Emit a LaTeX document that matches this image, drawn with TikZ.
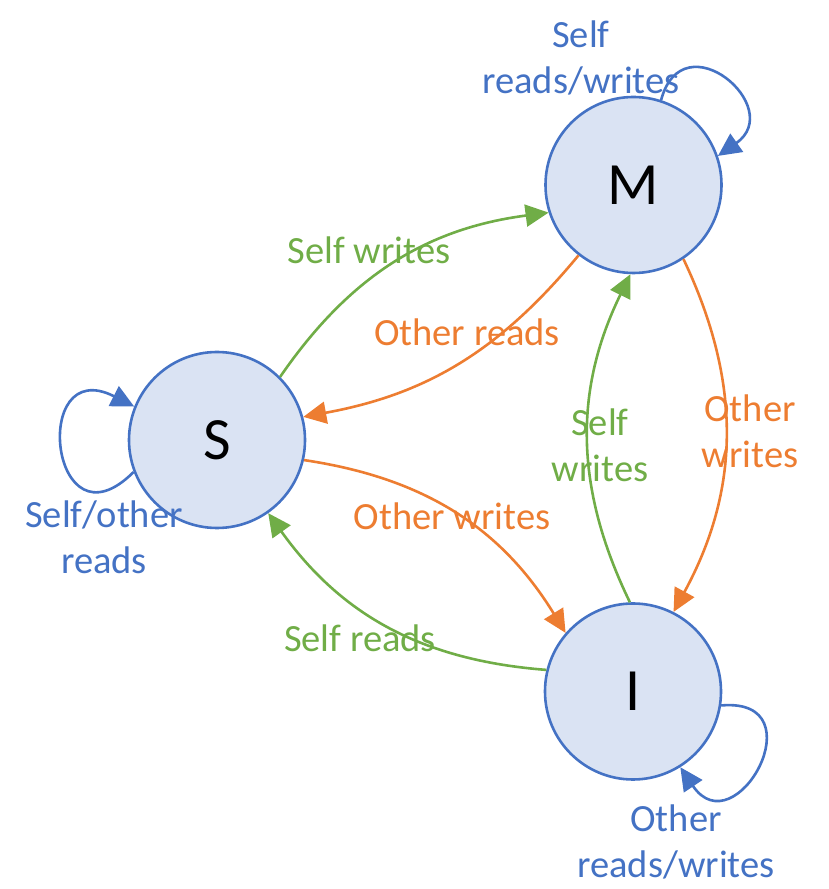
\documentclass[tikz,border=0pt]{standalone}
\usepackage{fontspec}
\setmainfont{Carlito}
\usetikzlibrary{arrows.meta}
\definecolor{stateblue}{HTML}{4472C4}
\definecolor{statefill}{HTML}{DAE3F3}
\definecolor{selfgreen}{HTML}{70AD47}
\definecolor{otherorange}{HTML}{ED7D31}

\begin{document}
\begin{tikzpicture}
  [
  x=1pt, y=1pt, line width=2.6pt, >={Triangle[length=23pt,width=22pt]},
  statenode/.style={circle, inner sep=0pt, minimum size=176pt, draw=stateblue, fill=statefill, font=\fontsize{60}{64}\selectfont},
  lbl/.style={anchor=base, align=center, font=\fontsize{38.5}{46.5}\selectfont},
  selfedge/.style={->, draw=selfgreen},
  otheredge/.style={->, draw=otherorange},
  loopedge/.style={->, draw=stateblue}
  ]
  \useasboundingbox (0,0) rectangle (829,889);

  \node[statenode] (m) at (633.5,704) {M};
  \node[statenode] (s) at (217,449) {S};
  \node[statenode] (i) at (633,197.5) {I};

  % self loops
  \draw[loopedge] (m.72) to[out=75, in=35, looseness=2.7] (m.19);
  \draw[loopedge] (s.201) to[out=225, in=153, looseness=4.6] (s.158);
  \draw[loopedge] (i.-9) to[out=5, in=-56, looseness=3.4] (i.-58);

  % transitions
  \draw[selfedge] (s.45) to[bend left=24] (m.198);
  \draw[otheredge] (m.232) to[bend left=20] (s.15);
  \draw[otheredge] (s.-13) to[bend left=25] (i.139);
  \draw[selfedge] (i.166) to[bend left=25] (s.-55);
  \draw[selfedge] (i.92) to[bend left=26] (m.268);
  \draw[otheredge] (m.-56) to[bend left=27] (i.63);

  \node[lbl, text=stateblue] (mloop) at (581,795) {Self\\reads/writes};
  \node[lbl, text=stateblue] (sloop) at (104,315) {Self/other\\reads};
  \node[lbl, text=stateblue] (iloop) at (676,11) {Other\\reads/writes};
  \node[lbl, text=selfgreen] (smw) at (369,625) {Self writes};
  \node[lbl, text=otherorange] (msr) at (467,543) {Other reads};
  \node[lbl, text=otherorange] (siw) at (452,359) {Other writes};
  \node[lbl, text=selfgreen] (isr) at (360,237) {Self reads};
  \node[lbl, text=selfgreen] (imw) at (600,407) {Self\\writes};
  \node[lbl, text=otherorange] (miw) at (750,421) {Other\\writes};
\end{tikzpicture}
\end{document}
